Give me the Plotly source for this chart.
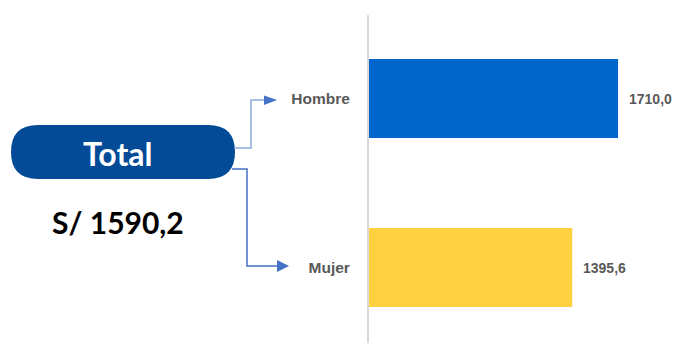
import plotly.graph_objects as go

# datos
categorias = ["Mujer", "Hombre"]
ingresos = [1395.6, 1710.0]
colores = ["#FFD140", "#0066CC"]
total_label = "Total"
total_valor = 1590.2

W, H = 677, 345
fuente_etq = "Liberation Sans, Arial"


def fx(x):
    return x / W


def fy(y):
    return 1 - y / H


def fmt(v):
    return f"{v:.1f}".replace(".", ",")


fig = go.Figure()
fig.add_trace(
    go.Bar(
        y=categorias,
        x=ingresos,
        orientation="h",
        width=0.467,
        marker=dict(color=colores, line=dict(width=0)),
        hoverinfo="skip",
    )
)

# etiquetas de valor
for c, v in zip(categorias, ingresos):
    fig.add_annotation(
        x=v, y=c, xref="x", yref="y",
        text="<b>" + fmt(v) + "</b>",
        showarrow=False, xanchor="left", xshift=9, yshift=-1,
        font=dict(family=fuente_etq, size=14, color="#595959"),
    )

shapes = []
# pill "Total"
x0, x1, y0, y1, r = 11, 235, 125, 179, 27
path = (
    f"M {fx(x0 + r)},{fy(y0)} L {fx(x1 - r)},{fy(y0)} "
    f"Q {fx(x1)},{fy(y0)} {fx(x1)},{fy(y0 + r)} "
    f"Q {fx(x1)},{fy(y1)} {fx(x1 - r)},{fy(y1)} "
    f"L {fx(x0 + r)},{fy(y1)} "
    f"Q {fx(x0)},{fy(y1)} {fx(x0)},{fy(y1 - r)} "
    f"Q {fx(x0)},{fy(y0)} {fx(x0 + r)},{fy(y0)} Z"
)
shapes.append(dict(type="path", xref="paper", yref="paper", path=path,
                   fillcolor="#034A97", line=dict(width=0)))

# conectores
shapes.append(dict(type="path", xref="paper", yref="paper",
                   path=f"M {fx(234)},{fy(148)} L {fx(251)},{fy(148)} L {fx(251)},{fy(100)} L {fx(266)},{fy(100)}",
                   line=dict(color="#8FAADC", width=1.5)))
shapes.append(dict(type="path", xref="paper", yref="paper",
                   path=f"M {fx(264)},{fy(95.5)} L {fx(277)},{fy(100)} L {fx(264)},{fy(105)} Z",
                   fillcolor="#4472C4", line=dict(width=0)))
shapes.append(dict(type="path", xref="paper", yref="paper",
                   path=f"M {fx(232)},{fy(169)} L {fx(247)},{fy(169)} L {fx(247)},{fy(266)} L {fx(278)},{fy(266)}",
                   line=dict(color="#4472C4", width=1.5)))
shapes.append(dict(type="path", xref="paper", yref="paper",
                   path=f"M {fx(277)},{fy(260)} L {fx(289)},{fy(266)} L {fx(277)},{fy(272)} Z",
                   fillcolor="#4472C4", line=dict(width=0)))

fig.add_annotation(x=fx(117.5), y=fy(153), xref="paper", yref="paper",
                   xanchor="center", yanchor="middle",
                   text="<b>" + total_label + "</b>", showarrow=False,
                   font=dict(family="Lato", size=32, color="white"))
fig.add_annotation(x=fx(117.5), y=fy(222), xref="paper", yref="paper",
                   xanchor="center", yanchor="middle",
                   text="<b>S/ " + fmt(total_valor) + "</b>", showarrow=False,
                   font=dict(family="Lato", size=30, color="black"))

fig.update_layout(
    width=W, height=H,
    margin=dict(l=0, r=0, t=0, b=0),
    paper_bgcolor="white", plot_bgcolor="white",
    showlegend=False,
    shapes=shapes,
    xaxis=dict(domain=[fx(369), 1], range=[0, 2115], visible=False, fixedrange=True),
    yaxis=dict(
        domain=[2 / H, 330 / H], range=[-0.447, 1.494],
        showline=True, linecolor="#D9D9D9", linewidth=2,
        showgrid=False, zeroline=False, ticks="",
        ticklabelstandoff=14,
        tickfont=dict(family=fuente_etq, size=15.5, color="#595959"),
        tickprefix="<b>", ticksuffix="</b>",
    ),
)

fig.write_html("out.html", config={"displayModeBar": False},
               post_script="document.body.style.margin='0';")
